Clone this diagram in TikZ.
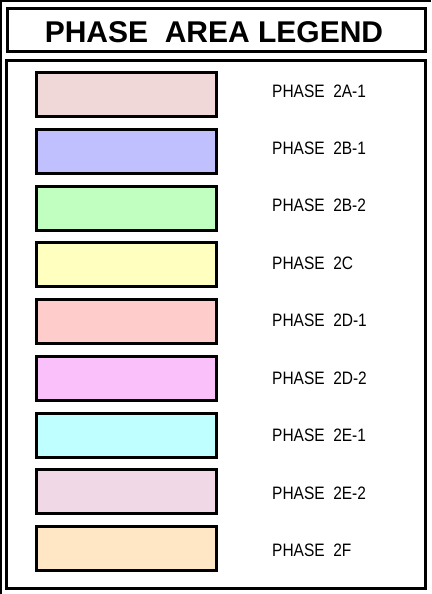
\documentclass[tikz,border=0pt]{standalone}
\usepackage{fontspec}
\setmainfont{Liberation Sans}
\definecolor{cA}{RGB}{240,216,216}
\definecolor{cB}{RGB}{192,192,255}
\definecolor{cC}{RGB}{192,255,192}
\definecolor{cD}{RGB}{255,255,192}
\definecolor{cE}{RGB}{255,204,204}
\definecolor{cF}{RGB}{250,192,250}
\definecolor{cG}{RGB}{192,255,255}
\definecolor{cH}{RGB}{240,216,230}
\definecolor{cI}{RGB}{255,230,196}
\tikzset{
  frame/.style={draw=black,line width=3pt},
  swatch/.style={draw=black,line width=3pt,minimum width=180pt,minimum height=44pt,inner sep=0pt,outer sep=0pt,anchor=north west},
  lbl/.style={anchor=west,inner sep=0pt,font=\fontsize{18}{20}\selectfont},
  ttl/.style={inner sep=0pt,font=\fontsize{30}{33}\bfseries\selectfont}
}
\newcommand{\lbltext}[1]{\scalebox{0.86}[1]{PHASE\hspace{10pt}#1}}
\begin{document}
\begin{tikzpicture}[x=1pt,y=-1pt]
\useasboundingbox (0,0) rectangle (431,594);
\fill[white] (0,0) rectangle (431,594);
% outer frame (partly cropped)
\draw[line width=2pt] (1,594) -- (1,1) -- (431,1);
% title box
\draw[frame] (7.5,8.5) rectangle (425,51.5);
\node[ttl] (title) at (214,32) {PHASE\ \ AREA LEGEND};
% main box
\draw[frame] (6.5,60.5) rectangle (425,588);
% swatches and labels
\foreach \c/\t [count=\i from 0] in {cA/2A{-}1,cB/2B{-}1,cC/2B{-}2,cD/2C,cE/2D{-}1,cF/2D{-}2,cG/2E{-}1,cH/2E{-}2,cI/2F}{
  \node[swatch,fill=\c] (s\i) at (36.5,{72.5+56.75*\i}) {};
  \node[lbl] (l\i) at (272,{91+57.4*\i}) {\lbltext{\t}};
}
\end{tikzpicture}
\end{document}
